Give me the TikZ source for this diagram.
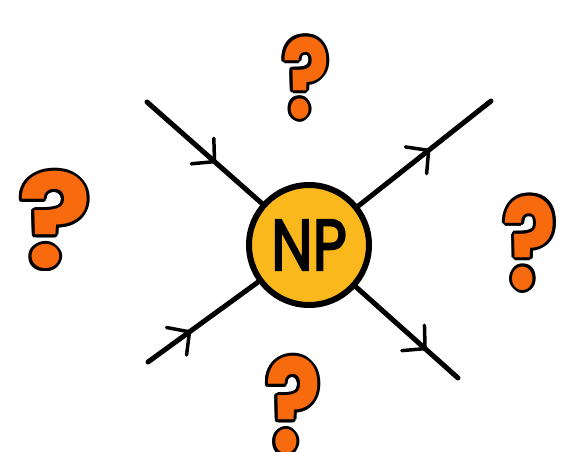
\documentclass[tikz,border=0pt]{standalone}
\usepackage{fontspec}
\usepackage{graphicx}
\usepackage{tikz}
\usetikzlibrary{arrows.meta,decorations.markings}
\setmainfont{Poppins}
\newfontfamily\npfont{Poppins}[FakeBold=3]
\definecolor{npYellow}{HTML}{FBB81C}
\definecolor{npOrange}{HTML}{F86A0E}
\tikzset{
  leg/.style={line width=5pt, line cap=round, draw=black},
  leg arrow/.style={leg, postaction={decorate, decoration={markings,
    mark=at position #1 with {\arrow{Straight Barb[length=16pt,width=34pt,line width=3.5pt,round]}}}}},
  vertex/.style={circle, draw=black, line width=6pt, fill=npYellow,
    minimum size=120pt, inner sep=0pt, font=\npfont\fontsize{72}{72}\selectfont},
  qmark/.style={text=npOrange, inner sep=0pt,
    font=\bfseries\fontsize{#1}{#1}\selectfont}
}
% question mark with a black rim
\newcommand\askmark[4]{%
  \foreach \a in {0,30,...,330}
    \node[qmark=#3, text=black] (#1-\a) at ([shift={(\a:3)}]#2) {\scalebox{#4}[1]{?}};
  \node[qmark=#3] (#1) at (#2) {\scalebox{#4}[1]{?}};}

\begin{document}
\begin{tikzpicture}[x=1pt, y=-1pt]
  \clip (0,0) rectangle (573,452);
  \node[vertex] (np) at (309,245) {\scalebox{0.82}[1]{NP}};
  \coordinate (inA) at (147,102);
  \coordinate (inB) at (148,362);
  \coordinate (outA) at (491,101);
  \coordinate (outB) at (458,378);
  \draw[leg arrow=0.6] (inA) -- (np);
  \draw[leg arrow=0.39] (inB) -- (np);
  \draw[leg arrow=0.54] (np) -- (outA);
  \draw[leg arrow=0.69] (np) -- (outB);
  \askmark{qtop}{306,78}{110}{0.8}
  \askmark{qleft}{55,220}{130}{1.05}
  \askmark{qright}{530,243}{126}{0.8}
  \askmark{qbottom}{293,405}{130}{0.8}
\end{tikzpicture}
\end{document}
